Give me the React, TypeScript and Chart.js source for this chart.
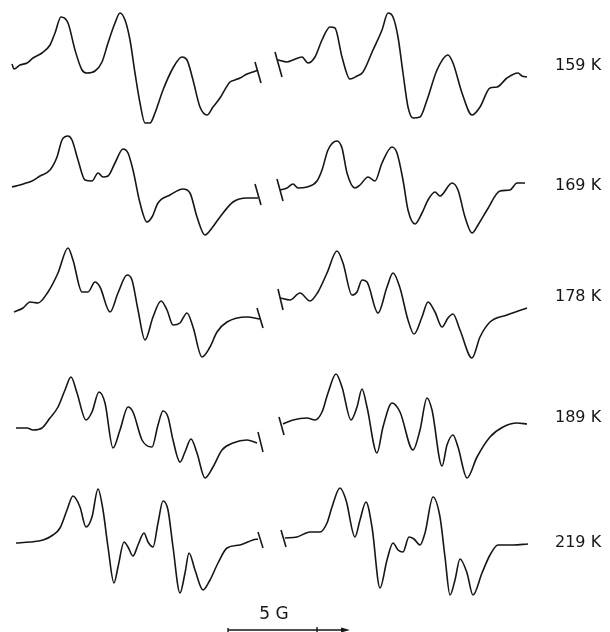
import React, { useEffect, useRef } from "react";
import { Chart, registerables } from "chart.js";

Chart.register(...registerables);

// Temperatures (row labels)
const temperatures = ["159 K", "169 K", "178 K", "189 K", "219 K"];

// Each trace: [field, signal] pairs (signal positive up, arbitrary units)
const left159: number[][] = [[12,1],[14,-4],[20,0],[27,2],[33,7],[42,12],[50,20],[55,32],[61,48],[68,42],[75,15],[82,-5],[87,-8],[95,-6],[102,3],[108,22],[115,42],[120,52],[125,45],[130,25],[135,-8],[140,-38],[145,-58],[150,-58],[155,-48],[163,-25],[173,-3],[182,8],[187,5],[193,-15],[200,-42],[207,-50],[213,-42],[220,-33],[230,-17],[235,-15],[240,-13],[247,-9],[253,-7],[258,-5]];
const right159: number[][] = [[278,5],[287,3],[293,5],[302,8],[308,2],[315,8],[322,25],[330,38],[335,37],[342,8],[350,-14],[357,-11],[363,-7],[373,15],[382,35],[388,52],[393,48],[398,28],[403,-8],[408,-42],[413,-53],[420,-52],[427,-35],[437,-5],[448,10],[453,2],[462,-28],[472,-50],[480,-42],[490,-23],[497,-22],[507,-13],[518,-8],[522,-11],[527,-12]];

const left169: number[][] = [[12,0],[20,2],[26,4],[32,6],[40,11],[50,17],[57,30],[62,47],[68,51],[72,47],[78,27],[85,7],[92,6],[98,14],[103,10],[108,11],[115,24],[123,38],[128,34],[133,17],[140,-16],[147,-35],[152,-30],[158,-16],[170,-8],[183,-2],[190,-6],[197,-30],[205,-48],[212,-41],[220,-30],[233,-15],[247,-11],[258,-11]];
const right169: number[][] = [[280,-3],[287,-1],[293,3],[298,-1],[307,0],[317,6],[322,17],[328,37],[337,46],[342,39],[347,14],[355,-1],[360,2],[368,10],[375,6],[382,24],[392,40],[397,34],[403,7],[408,-23],[415,-37],[422,-26],[428,-13],[435,-5],[440,-9],[452,4],[458,-3],[465,-30],[472,-46],[478,-38],[487,-23],[500,-4],[510,-3],[517,4],[525,4]];

const left178: number[][] = [[14,-7],[23,-3],[30,3],[38,2],[48,13],[58,32],[68,57],[73,45],[82,13],[88,13],[95,23],[100,18],[110,-7],[118,12],[127,30],[132,25],[138,-5],[145,-35],[153,-12],[161,4],[167,-5],[173,-20],[180,-18],[187,-8],[193,-22],[202,-52],[210,-42],[217,-27],[227,-17],[247,-12],[260,-14]];
const right178: number[][] = [[280,7],[290,5],[300,12],[310,4],[318,13],[327,32],[337,54],[343,42],[352,10],[357,13],[362,25],[367,23],[378,-8],[387,18],[393,32],[400,17],[408,-15],[414,-29],[422,-12],[428,3],[435,-7],[442,-22],[448,-13],[453,-9],[460,-25],[472,-53],[480,-32],[490,-17],[507,-10],[527,-3]];

const left189: number[][] = [[16,0],[27,0],[33,-2],[42,0],[50,10],[58,21],[65,38],[71,51],[77,35],[86,8],[92,16],[99,36],[105,25],[113,-20],[120,-2],[128,21],[133,16],[142,-12],[152,-19],[158,3],[163,17],[168,11],[173,-12],[180,-34],[185,-24],[191,-11],[197,-25],[205,-50],[213,-39],[222,-22],[233,-15],[247,-12],[257,-15]];
const right189: number[][] = [[283,4],[293,8],[307,10],[315,8],[322,16],[328,35],[336,54],[342,41],[351,8],[357,21],[362,39],[367,21],[377,-25],[383,1],[392,25],[400,16],[413,-22],[420,-2],[427,30],[432,18],[442,-38],[447,-17],[453,-7],[458,-19],[467,-50],[477,-29],[490,-9],[503,1],[517,5],[527,4]];

const left219: number[][] = [[16,0],[30,1],[43,3],[53,8],[60,15],[67,33],[73,47],[80,36],[86,16],[92,26],[98,54],[103,33],[108,-4],[114,-40],[118,-24],[124,1],[128,-4],[133,-13],[138,-2],[144,10],[148,1],[153,-4],[158,20],[163,42],[168,33],[173,-4],[180,-50],[185,-30],[189,-10],[195,-27],[203,-47],[210,-37],[218,-20],[227,-5],[240,-2],[253,3],[258,4]];
const right219: number[][] = [[285,5],[297,6],[310,11],[320,11],[327,20],[332,36],[340,55],[346,43],[355,6],[360,23],[366,41],[372,16],[380,-45],[387,-17],[393,0],[398,-7],[403,-9],[409,6],[414,4],[420,-2],[425,10],[433,46],[440,26],[445,-14],[450,-52],[455,-37],[460,-16],[467,-30],[473,-52],[482,-30],[490,-12],[498,-2],[513,-2],[528,-1]];

// Break marks at the end of left trace and start of right trace: [x1, s1, x2, s2]
const leftMarks: number[][] = [[255,3,261,-18],[255,3,261,-18],[257,-3,263,-23],[258,-4,263,-24],[258,11,263,-5]];
const rightMarks: number[][] = [[275,13,282,-12],[277,8,283,-14],[278,16,283,-5],[279,11,284,-7],[281,13,286,-4]];

const leftTraces = [left159, left169, left178, left189, left219];
const rightTraces = [right159, right169, right178, right189, right219];

// Scale bar in field units: start, 5 G tick, arrow end
const scaleBar = [228, 317, 350];
const scaleBarLabel = "5 G";

export default function App() {
  const ref = useRef<HTMLCanvasElement | null>(null);

  useEffect(() => {
    if (!ref.current) return;
    const rowBase = [65, 187, 305, 428, 543];
    const labelBase = [66, 186, 297, 418, 543];
    const color = "#161616";
    const datasets: any[] = [];
    const traceDs = (pts: number[][], i: number) => ({
      data: pts.map(([x, s]) => ({ x, y: s - rowBase[i] })),
      borderColor: color,
      borderWidth: 1.6,
      pointRadius: 0,
      fill: false,
      cubicInterpolationMode: "monotone",
    });
    leftTraces.forEach((t, i) => datasets.push(traceDs(t, i)));
    rightTraces.forEach((t, i) => datasets.push(traceDs(t, i)));
    const markDs = (m: number[], i: number) => ({
      data: [
        { x: m[0], y: m[1] - rowBase[i] },
        { x: m[2], y: m[3] - rowBase[i] },
      ],
      borderColor: color,
      borderWidth: 1.6,
      pointRadius: 0,
      tension: 0,
    });
    leftMarks.forEach((m, i) => datasets.push(markDs(m, i)));
    rightMarks.forEach((m, i) => datasets.push(markDs(m, i)));

    const textPlugin = {
      id: "texts",
      afterDraw(chart: any) {
        const ctx = chart.ctx;
        const xs = chart.scales.x;
        const ys = chart.scales.y;
        ctx.save();
        ctx.fillStyle = color;
        ctx.font = "16px 'DejaVu Sans'";
        ctx.textBaseline = "middle";
        ctx.textAlign = "left";
        temperatures.forEach((t, i) => {
          ctx.fillText(t, xs.getPixelForValue(555), ys.getPixelForValue(-labelBase[i]));
        });
        // scale bar
        const yb = ys.getPixelForValue(-630);
        const x0 = xs.getPixelForValue(scaleBar[0]);
        const x1 = xs.getPixelForValue(scaleBar[1]);
        const x2 = xs.getPixelForValue(scaleBar[2]);
        ctx.strokeStyle = color;
        ctx.lineWidth = 1.4;
        ctx.beginPath();
        ctx.moveTo(x0, yb);
        ctx.lineTo(x2 - 4, yb);
        ctx.moveTo(x0, yb - 2);
        ctx.lineTo(x0, yb + 2);
        ctx.moveTo(x1, yb - 3);
        ctx.lineTo(x1, yb + 3);
        ctx.stroke();
        ctx.beginPath();
        ctx.moveTo(x2, yb);
        ctx.lineTo(x2 - 9, yb - 2.5);
        ctx.lineTo(x2 - 9, yb + 2.5);
        ctx.closePath();
        ctx.fill();
        ctx.font = "17px 'DejaVu Sans'";
        ctx.textAlign = "center";
        ctx.fillText(scaleBarLabel, xs.getPixelForValue(274), ys.getPixelForValue(-615));
        ctx.restore();
      },
    };

    const chart = new Chart(ref.current, {
      type: "line",
      data: { datasets },
      options: {
        animation: false,
        responsive: false,
        devicePixelRatio: 1,
        layout: { padding: 0 },
        plugins: { legend: { display: false }, tooltip: { enabled: false } },
        scales: {
          x: { type: "linear", min: 0, max: 610, display: false },
          y: { type: "linear", min: -632, max: 0, display: false },
        },
      },
      plugins: [textPlugin],
    } as any);
    return () => chart.destroy();
  }, []);

  return (
    <div style={{ position: "absolute", left: 0, top: 0, width: 610, height: 632, background: "#fff" }}>
      <canvas ref={ref} width={610} height={632} />
    </div>
  );
}
